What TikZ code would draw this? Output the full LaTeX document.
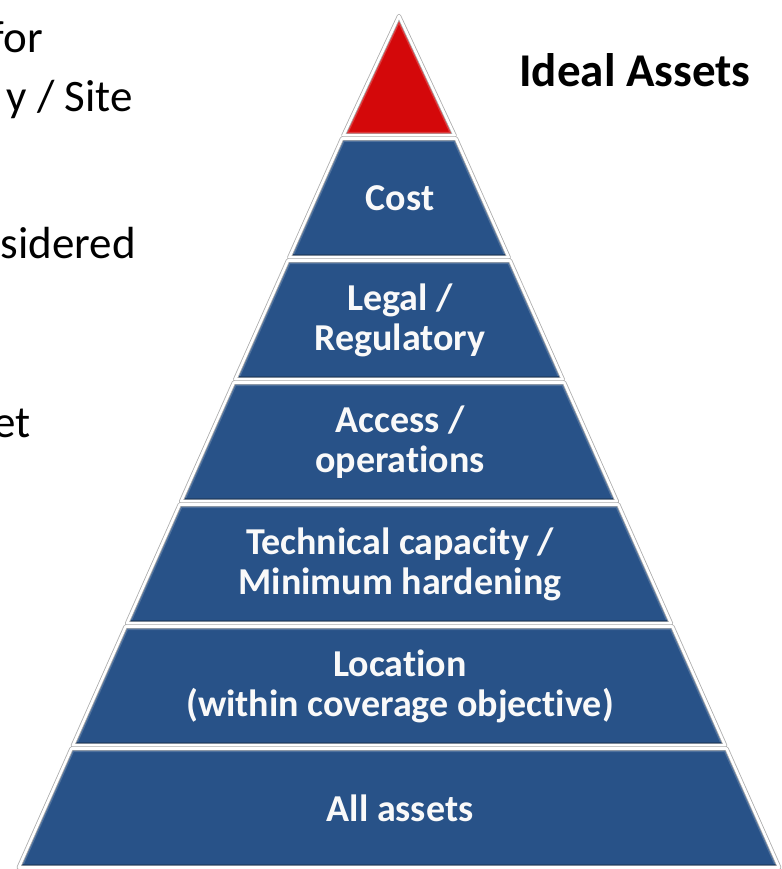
\documentclass[tikz,border=0pt]{standalone}
\usepackage{fontspec}
\setmainfont{Carlito}[Ligatures=NoCommon]
\usetikzlibrary{positioning}
\definecolor{pyrblue}{RGB}{40,82,136}
\definecolor{pyrred}{RGB}{212,8,10}
\tikzstyle{rim} = [draw=gray!65, double=white, double distance=2.6pt, line width=0.8pt, line join=round]
\tikzstyle{bevel} = [line width=7pt, line join=round]
\tikzstyle{lbl} = [text=white!95!gray, font=\fontsize{38}{40}\selectfont\bfseries, align=center]
\tikzstyle{side} = [anchor=base east, inner sep=0pt, font=\fontsize{45}{54}\selectfont]

\begin{document}
\begin{tikzpicture}[x=1pt,y=-1pt,
    declare function={xl(\y)=399-0.4435*(\y-10); xr(\y)=399+0.4435*(\y-10);}]
    \useasboundingbox (0,0) rectangle (781,869);
    \clip (0,0) rectangle (781,869);

    % text cut off at the left
    \node [side] (ltfor) at (43,53) {for};
    \node [side] (ltsite) at (133,112) {y / Site};
    \node [side] (ltsidered) at (136,258) {sidered};
    \node [side] (ltet) at (31,437) {et};

    % tip
    \fill [pyrred] (399,16) -- ({xr(135.5)},135.5) -- ({xl(135.5)},135.5) -- cycle;
    \begin{scope}
        \clip (399,16) -- ({xr(135.5)},135.5) -- ({xl(135.5)},135.5) -- cycle;
        \draw [bevel, pyrred!80!white] (399,16) -- ({xr(135.5)},135.5) -- ({xl(135.5)},135.5) -- cycle;
    \end{scope}
    \draw [rim] (399,16) -- ({xr(135.5)},135.5) -- ({xl(135.5)},135.5) -- cycle;

    % layers
    \foreach \t in {137,259,381,503,625,747} {
        \def\trap{({xl(\t+1.5)},{\t+1.5}) -- ({xr(\t+1.5)},{\t+1.5})
            -- ({xr(\t+120.5)},{\t+120.5}) -- ({xl(\t+120.5)},{\t+120.5}) -- cycle}
        \fill [pyrblue] \trap;
        \begin{scope}
            \clip \trap;
            \draw [bevel, pyrblue!82!white] \trap;
            \draw [bevel, pyrblue!80!black] ({xl(\t+120.5)},{\t+120.5}) -- ({xr(\t+120.5)},{\t+120.5});
        \end{scope}
        \draw [rim] \trap;
    }

    \node [lbl] (cost) at (400,198) {Cost};
    \node [lbl] (legal) at (400,320) {Legal /\\Regulatory};
    \node [lbl] (access) at (400,442) {Access /\\operations};
    \node [lbl] (tech) at (400,564) {Technical capacity /\\Minimum hardening};
    \node [lbl] (loc) at (400,686) {Location\\(within coverage objective)};
    \node [lbl] (all) at (400,808) {All assets};

    \node [anchor=base, font=\fontsize{47}{56}\selectfont\bfseries] (ideal) at (635,87) {Ideal Assets};
\end{tikzpicture}
\end{document}
